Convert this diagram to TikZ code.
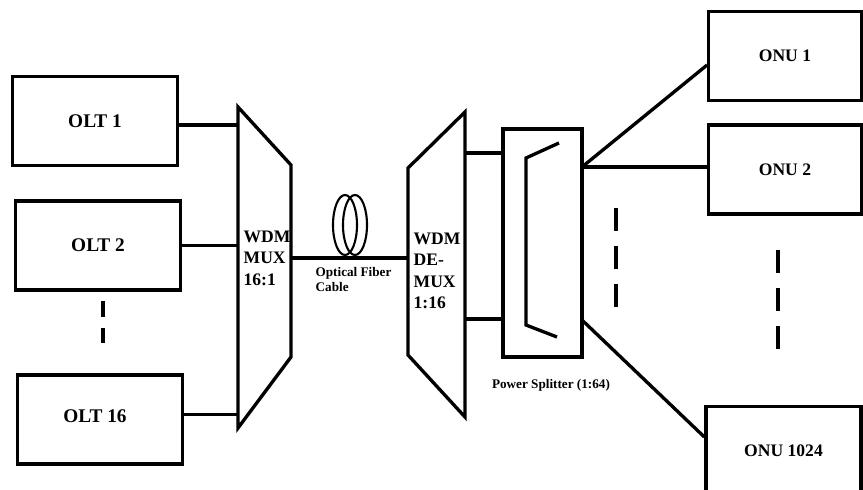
\documentclass[tikz,border=0pt]{standalone}
\usepackage{fontspec}
\setmainfont{Liberation Serif}
\usetikzlibrary{positioning,calc}

\begin{document}
\begin{tikzpicture}[
    x=0.02cm, y=-0.02cm,
    line width=1.9pt,
    unit/.style={rectangle, draw, minimum width=3.3cm, minimum height=1.78cm, font=\bfseries\fontsize{11}{13}\selectfont},
    onu/.style={unit, minimum width=3.05cm, font=\bfseries\fontsize{10}{12}\selectfont},
    lbl/.style={align=left, inner sep=0pt, font=\bfseries\fontsize{10}{12.2}\selectfont},
    small/.style={align=left, inner sep=0pt, font=\bfseries\fontsize{7.5}{8.2}\selectfont},
    dots/.style={dash pattern=on 0.46cm off 0.3cm},
    coil/.style={line width=1.2pt}
]
\useasboundingbox (0,0) rectangle (863,490);
\clip (0,0) rectangle (863,490);

% OLTs
\node[unit] (olt1) at (95,121) {OLT 1};
\node[unit] (olt2) at (98,245.5) {OLT 2};
\node[unit] (olt16) at (100,419.5) {\raisebox{0.15cm}{OLT 16\hspace{0.2cm}}};
\draw[dash pattern=on 0.32cm off 0.22cm] (103,301) -- (103,343);

% WDM MUX
\coordinate (muxtl) at (238,107);
\coordinate (muxtr) at (291,165);
\coordinate (muxbr) at (291,357);
\coordinate (muxbl) at (238,428);
\draw (muxtl) -- (muxtr) -- (muxbr) -- (muxbl) -- cycle;
\node[lbl, anchor=west] (muxtxt) at (242,258) {WDM\\MUX\\16:1};

\draw ([yshift=-0.08cm]olt1.east) -- ([yshift=-0.08cm]olt1.east -| muxtl);
\draw (olt2.east) -- (olt2.east -| muxtl);
\draw ([yshift=0.1cm]olt16.east) -- ([yshift=0.1cm]olt16.east -| muxtl);

% Fiber
\coordinate (fibl) at (291,258);
\coordinate (fibr) at (408,258);
\draw (fibl) -- (fibr);
\draw[coil] (345,225) ellipse [x radius=0.24cm, y radius=0.6cm];
\draw[coil] (355,225) ellipse [x radius=0.24cm, y radius=0.6cm];
\node[small, anchor=north west] (fibtxt) at (314,266) {Optical Fiber\\Cable};

% WDM DEMUX
\coordinate (dmxtl) at (408,168);
\coordinate (dmxtr) at (465,112);
\coordinate (dmxbr) at (465,417);
\coordinate (dmxbl) at (408,355);
\draw (dmxtl) -- (dmxtr) -- (dmxbr) -- (dmxbl) -- cycle;
\node[lbl, anchor=west] (dmxtxt) at (412,271) {WDM\\DE-\\MUX\\1:16};

% Power splitter
\node[draw, minimum width=1.58cm, minimum height=4.56cm] (split) at (542.5,243) {};
\draw (559,143) -- (526,158) -- (526,325) -- (557,337);
\node[small, anchor=north] (spltxt) at (551,378) {Power Splitter (1:64)};

\coordinate (dm1) at (465,153);
\coordinate (dm2) at (465,319);
\draw (dm1) -- (dm1 -| split.west);
\draw (dm2) -- (dm2 -| split.west);

% ONUs
\node[onu] (onu1) at (785,56) {ONU 1};
\node[onu] (onu2) at (785,169.5) {ONU 2};
\node[onu, minimum width=3.1cm] (onu1024) at (783.5,451) {ONU 1024};

\coordinate (spo) at (582,167);
\coordinate (spl) at (582,320);
\draw (spo) -- ([yshift=-0.18cm]onu1.west);
\draw (spo) -- (spo -| onu2.west);
\draw (spl) -- ([yshift=0.28cm]onu1024.west);

\draw[dots] (616,208) -- (616,308);
\draw[dots] (778,250) -- (778,350);

\end{tikzpicture}
\end{document}
